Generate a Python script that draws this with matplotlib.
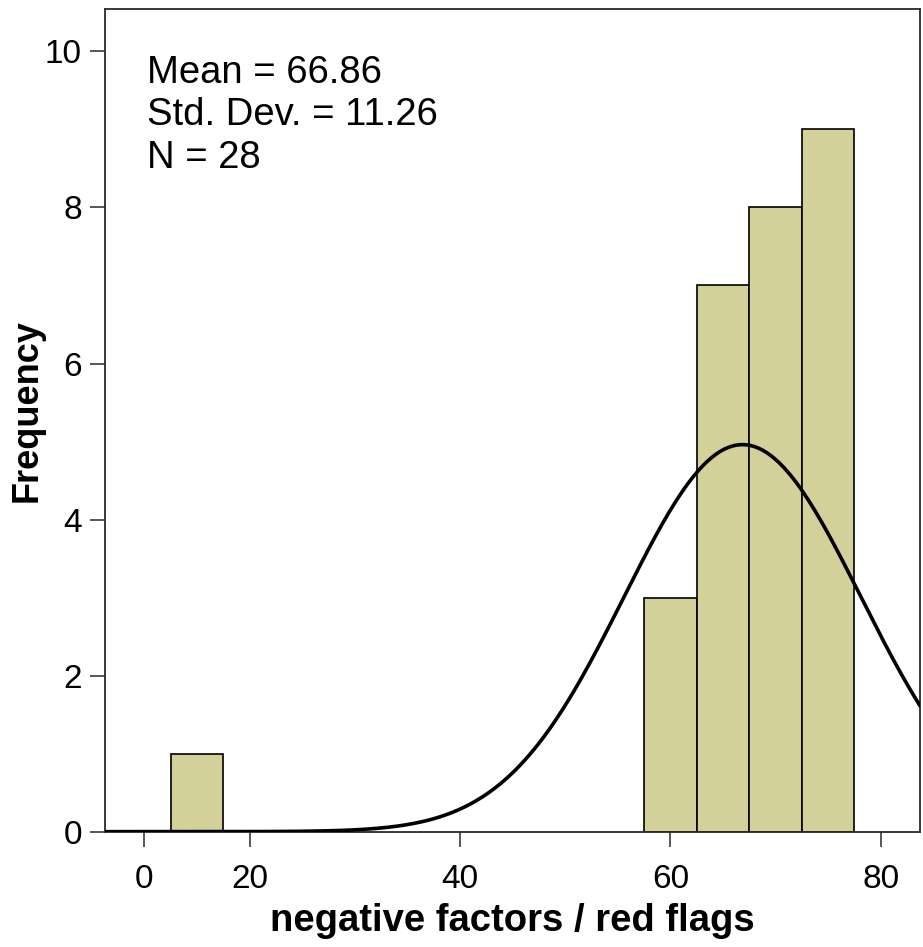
import numpy as np
import matplotlib
matplotlib.use('Agg')
import matplotlib.pyplot as plt

# histogram of the "negative factors / red flags" score (SPSS style)
binCenters = [15, 60, 65, 70, 75]
counts     = [1, 3, 7, 8, 9]
binWidth   = 5

meanVal = 66.86
stdVal  = 11.26
nVal    = 28

xTickPos    = [10, 20, 40, 60, 80]
xTickLabels = ['0', '20', '40', '60', '80']
yTicks      = [0, 2, 4, 6, 8, 10]

plt.rcParams['font.family'] = ['Liberation Sans', 'DejaVu Sans']

fig = plt.figure(figsize=(9.23, 9.47), dpi=100)
ax = fig.add_axes([0.1134, 0.1218, 0.8833, 0.8684])

ax.bar(binCenters, counts, width=binWidth, color='#D4D09A',
       edgecolor='black', linewidth=1.2, zorder=2)

# normal curve from the reported mean / sd, scaled to counts
xs = np.linspace(6.2, 83.8, 400)
ys = nVal * binWidth / (stdVal * np.sqrt(2 * np.pi)) * np.exp(-0.5 * ((xs - meanVal) / stdVal) ** 2)
ax.plot(xs, ys, color='black', linewidth=2.6, zorder=3, solid_capstyle='butt')

ax.set_xlim(6.23, 83.73)
ax.set_ylim(0, 10.54)
ax.set_xticks(xTickPos)
ax.set_xticklabels(xTickLabels)
ax.set_yticks(yTicks)

ax.tick_params(axis='x', length=11, width=1.1, pad=12.5, labelsize=24, color='#2a2a2a')
ax.tick_params(axis='y', length=10.5, width=1.1, pad=6, labelsize=24, color='#2a2a2a')
for sp in ax.spines.values():
    sp.set_color('#2a2a2a')
    sp.set_linewidth(1.3)

# stats box text
statLines = ['Mean = %.2f' % meanVal, 'Std. Dev. = %.2f' % stdVal, 'N = %d' % nVal]
for i, s in enumerate(statLines):
    ax.text(0.052, 0.9107 - i * 0.0518, s, transform=ax.transAxes,
            fontsize=27.5, va='baseline', ha='left')

fig.text(512 / 923, 1 - 921 / 947, 'negative factors / red flags',
         fontsize=27.5, fontweight='bold', ha='center', va='center')
fig.text(27 / 923, 1 - 411 / 947, 'Frequency', rotation=90,
         fontsize=26, fontweight='bold', ha='center', va='center')

fig.savefig('out.png', dpi=100)
